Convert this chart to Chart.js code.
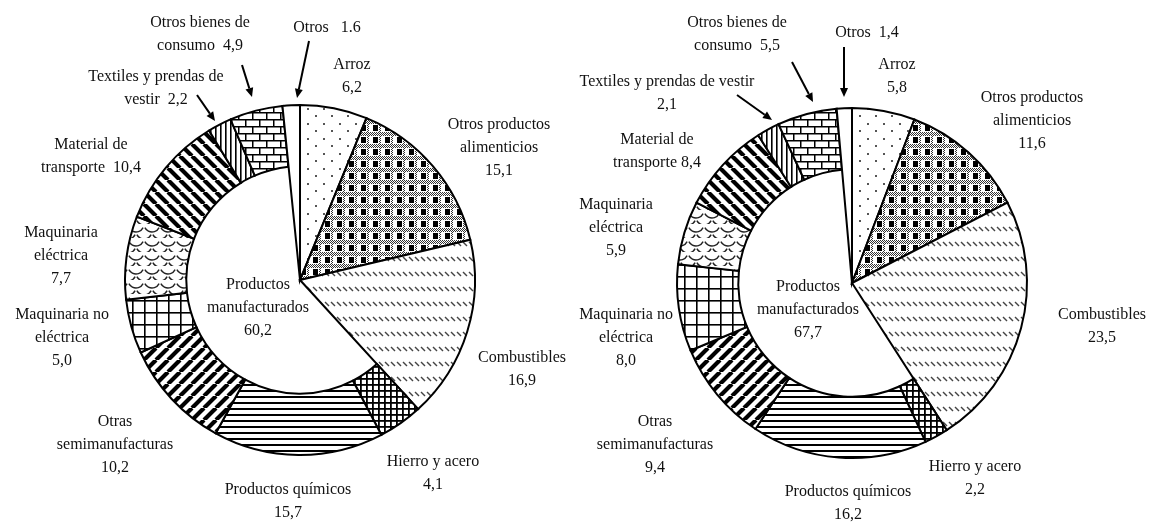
<!DOCTYPE html>
<html>
<head>
<meta charset="utf-8">
<script src="https://cdn.jsdelivr.net/npm/chart.js@4.4.1/dist/chart.umd.min.js"></script>
<style>
  html, body { margin: 0; padding: 0; background: #fff; }
  #wrap { position: relative; width: 1152px; height: 523px; overflow: hidden; }
  #wrap canvas { position: absolute; top: 0; }
  #chartLeft { left: 0; }
  #chartRight { left: 576px; }
</style>
</head>
<body>
<div id="wrap">
  <canvas id="chartLeft" width="576" height="523"></canvas>
  <canvas id="chartRight" width="576" height="523"></canvas>
</div>
<script>
// ---- data ----
const categories = [
  'Arroz', 'Otros productos alimenticios', 'Combustibles', 'Hierro y acero',
  'Productos químicos', 'Otras semimanufacturas', 'Maquinaria no eléctrica',
  'Maquinaria eléctrica', 'Material de transporte', 'Textiles y prendas de vestir',
  'Otros bienes de consumo', 'Otros'
];
const valuesLeft  = [6.2, 15.1, 16.9, 4.1, 15.7, 10.2, 5.0, 7.7, 10.4, 2.2, 4.9, 1.6];
const valuesRight = [5.8, 11.6, 23.5, 2.2, 16.2, 9.4, 8.0, 5.9, 8.4, 2.1, 5.5, 1.4];
// slices that belong to "Productos manufacturados" (drawn as a ring)
const manufactured = [false, false, false, true, true, true, true, true, true, true, true, false];

const labelsLeft = [
  ['Arroz', '6,2'],
  ['Otros productos', 'alimenticios', '15,1'],
  ['Combustibles', '16,9'],
  ['Hierro y acero', '4,1'],
  ['Productos químicos', '15,7'],
  ['Otras', 'semimanufacturas', '10,2'],
  ['Maquinaria no', 'eléctrica', '5,0'],
  ['Maquinaria', 'eléctrica', '7,7'],
  ['Material de', 'transporte  10,4'],
  ['Textiles y prendas de', 'vestir  2,2'],
  ['Otros bienes de', 'consumo  4,9'],
  ['Otros   1.6']
];
const labelsRight = [
  ['Arroz', '5,8'],
  ['Otros productos', 'alimenticios', '11,6'],
  ['Combustibles', '23,5'],
  ['Hierro y acero', '2,2'],
  ['Productos químicos', '16,2'],
  ['Otras', 'semimanufacturas', '9,4'],
  ['Maquinaria no', 'eléctrica', '8,0'],
  ['Maquinaria', 'eléctrica', '5,9'],
  ['Material de', 'transporte 8,4'],
  ['Textiles y prendas de vestir', '2,1'],
  ['Otros bienes de', 'consumo  5,5'],
  ['Otros  1,4']
];
const centerLeft  = ['Productos', 'manufacturados', '60,2'];
const centerRight = ['Productos', 'manufacturados', '67,7'];

// ---- layout (page pixels) ----
const RING_RATIO = 0.65;
const FONT = '16px "Liberation Serif", "Times New Roman", serif';
const LINE_H = 23;

const posLeft = [[352, 65], [499, 125], [522, 358], [433, 462], [288, 490], [115, 422],
                 [62, 315], [61, 233], [91, 145], [156, 77], [200, 23], [327, 28]];
const posRight = [[897, 65], [1032, 98], [1102, 315], [975, 467], [848, 492], [655, 422],
                  [626, 315], [616, 205], [657, 140], [667, 82], [737, 23], [867, 33]];
const centerPosLeft = [258, 285];
const centerPosRight = [808, 287];
const arrowsLeft = [[242, 65, 252, 97], [309, 41, 297, 98], [197, 95, 215, 121]];
const arrowsRight = [[792, 62, 813, 102], [844, 47, 844, 97], [737, 95, 772, 120]];

// ---- fill patterns ----
function tile(w, h, draw) {
  const c = document.createElement('canvas');
  c.width = w; c.height = h;
  const g = c.getContext('2d');
  g.fillStyle = '#fff';
  g.fillRect(0, 0, w, h);
  g.fillStyle = '#000';
  g.strokeStyle = '#000';
  draw(g, w, h);
  return g.createPattern(c, 'repeat');
}
function diag(g, w, h, lw, up) {
  g.lineWidth = lw;
  g.beginPath();
  for (let k = -1; k <= 1; k++) {
    if (up) { g.moveTo(k * w, h); g.lineTo(k * w + w, 0); }
    else { g.moveTo(k * w, 0); g.lineTo(k * w + w, h); }
  }
  g.stroke();
}
function checker(g, x0, y0, w, h) {
  for (let x = x0; x < x0 + w; x++)
    for (let y = y0; y < y0 + h; y++)
      if ((x + y) % 2 === 0) g.fillRect(x, y, 1, 1);
}

const patterns = [
  // Arroz: sparse dots
  tile(16, 15, g => { g.fillStyle = '#555'; g.fillRect(3, 3, 2, 2); g.fillRect(11, 10, 2, 2); }),
  // Otros productos alimenticios: plaid
  tile(12, 12, g => {
    g.fillStyle = '#333';
    checker(g, 0, 0, 12, 4);
    checker(g, 7, 4, 2, 8);
    g.fillStyle = '#000';
    g.fillRect(1, 5, 5, 6);
  }),
  // Combustibles: rows of short back-slash dashes
  tile(6, 15, g => {
    g.strokeStyle = '#444'; g.lineWidth = 1.4;
    g.beginPath(); g.moveTo(1, 2); g.lineTo(5, 6); g.stroke();
  }),
  // Hierro y acero: small grid
  tile(6, 6, g => { g.fillRect(0, 0, 6, 1.8); g.fillRect(0, 0, 1.8, 6); }),
  // Productos químicos: horizontal lines
  tile(4, 6, g => { g.fillRect(0, 0, 4, 2); }),
  // Otras semimanufacturas: thick diagonal
  tile(12, 12, g => diag(g, 12, 12, 4.2, true)),
  // Maquinaria no eléctrica: large grid
  tile(12, 12, g => { g.fillRect(0, 0, 12, 1.6); g.fillRect(0, 0, 1.6, 12); }),
  // Maquinaria eléctrica: scales
  tile(16, 14, g => {
    g.strokeStyle = '#222'; g.lineWidth = 1.4;
    g.beginPath(); g.arc(8, 0, 8, 0.15 * Math.PI, 0.85 * Math.PI); g.stroke();
    g.beginPath(); g.arc(0, 7, 8, 0.15 * Math.PI, 0.85 * Math.PI); g.stroke();
    g.beginPath(); g.arc(16, 7, 8, 0.15 * Math.PI, 0.85 * Math.PI); g.stroke();
    g.beginPath(); g.arc(8, 14, 8, 0.15 * Math.PI, 0.85 * Math.PI); g.stroke();
  }),
  // Material de transporte: thick back diagonal
  tile(12, 12, g => diag(g, 12, 12, 4.2, false)),
  // Textiles: vertical lines
  tile(5, 4, g => { g.fillRect(0, 0, 1.6, 4); }),
  // Otros bienes de consumo: bricks
  tile(14, 14, g => {
    g.fillRect(0, 0, 14, 1.5); g.fillRect(0, 7, 14, 1.5);
    g.fillRect(0, 0, 1.5, 7); g.fillRect(7, 7, 1.5, 7);
  }),
  // Otros
  '#ffffff'
];

// ---- plugins ----
const ringPlugin = {
  id: 'ringSlices',
  beforeDatasetsDraw(chart) {
    chart.getDatasetMeta(0).data.forEach((arc, i) => {
      arc.innerRadius = manufactured[i] ? arc.outerRadius * RING_RATIO : 0;
    });
  }
};

function labelPlugin(lines, pos, centerLines, centerPos, arrows, offsetX) {
  function drawLines(ctx, arr, x, y) {
    arr.forEach((t, j) => ctx.fillText(t, x - offsetX, y + j * LINE_H));
  }
  return {
    id: 'sliceLabels',
    afterDraw(chart) {
      const ctx = chart.ctx;
      ctx.save();
      ctx.font = FONT;
      ctx.fillStyle = '#111';
      ctx.textAlign = 'center';
      ctx.textBaseline = 'middle';
      lines.forEach((arr, i) => drawLines(ctx, arr, pos[i][0], pos[i][1]));
      drawLines(ctx, centerLines, centerPos[0], centerPos[1]);
      // arrows
      ctx.strokeStyle = '#000';
      ctx.lineWidth = 2;
      arrows.forEach(([x1, y1, x2, y2]) => {
        x1 -= offsetX; x2 -= offsetX;
        const a = Math.atan2(y2 - y1, x2 - x1);
        const hl = 9, hw = 4;
        const bx = x2 - hl * Math.cos(a), by = y2 - hl * Math.sin(a);
        ctx.beginPath();
        ctx.moveTo(x1, y1);
        ctx.lineTo(bx, by);
        ctx.stroke();
        ctx.beginPath();
        ctx.moveTo(x2, y2);
        ctx.lineTo(bx + hw * Math.sin(a), by - hw * Math.cos(a));
        ctx.lineTo(bx - hw * Math.sin(a), by + hw * Math.cos(a));
        ctx.closePath();
        ctx.fillStyle = '#000';
        ctx.fill();
      });
      ctx.restore();
    }
  };
}

function makeChart(id, values, padding, plugin) {
  return new Chart(document.getElementById(id), {
    type: 'pie',
    data: {
      labels: categories,
      datasets: [{
        data: values,
        backgroundColor: patterns,
        borderColor: '#000',
        borderWidth: 2,
        hoverBorderWidth: 2,
        borderJoinStyle: 'miter'
      }]
    },
    options: {
      responsive: false,
      animation: false,
      layout: { padding: padding },
      plugins: {
        legend: { display: false },
        tooltip: { enabled: false }
      }
    },
    plugins: [ringPlugin, plugin]
  });
}

// pie centres: left (300,280), right (852,283), radius 175
makeChart('chartLeft', valuesLeft, { left: 124, right: 100, top: 104, bottom: 67 },
  labelPlugin(labelsLeft, posLeft, centerLeft, centerPosLeft, arrowsLeft, 0));
makeChart('chartRight', valuesRight, { left: 100, right: 124, top: 107, bottom: 64 },
  labelPlugin(labelsRight, posRight, centerRight, centerPosRight, arrowsRight, 576));
</script>
</body>
</html>
